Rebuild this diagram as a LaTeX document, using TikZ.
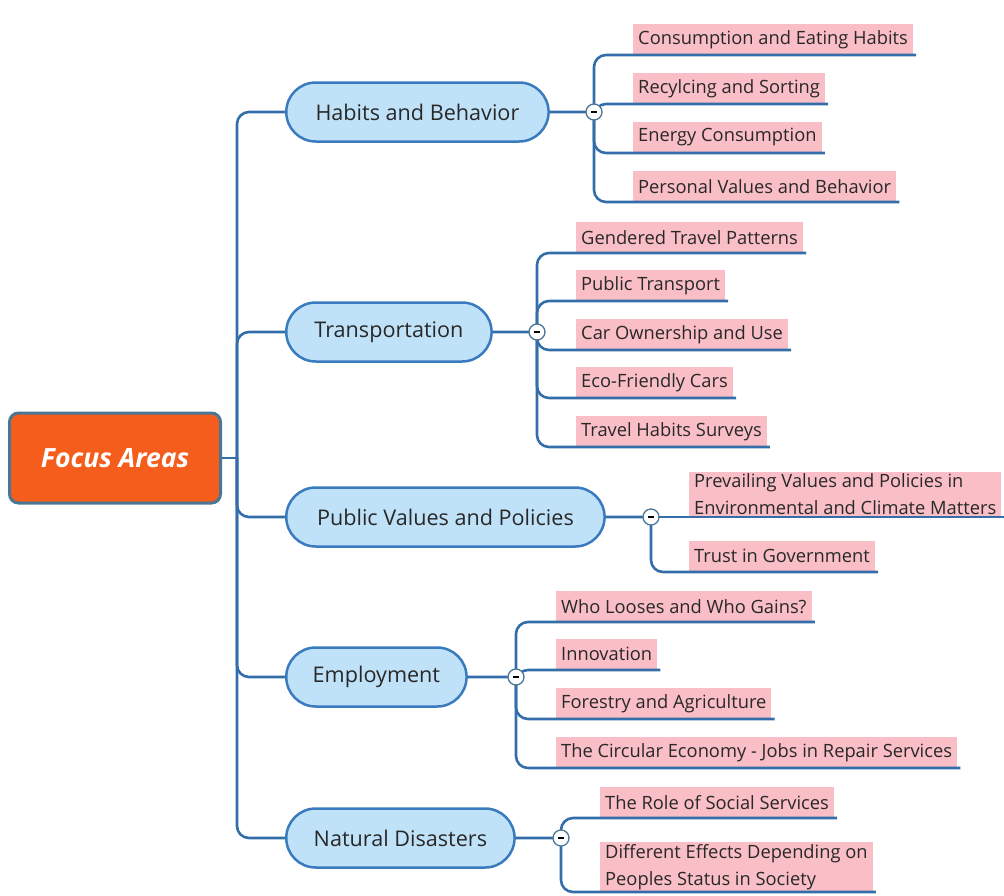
\documentclass[tikz,border=0pt]{standalone}
\usepackage{fontspec}
\setmainfont{Open Sans}
\usepackage{xcolor}
\usetikzlibrary{shapes.misc}
\definecolor{linkblue}{RGB}{52,110,170}
\definecolor{nodeblue}{RGB}{192,226,249}
\definecolor{edgeblue}{RGB}{58,122,190}
\definecolor{rootorange}{RGB}{244,93,28}
\definecolor{rootedge}{RGB}{74,118,150}
\definecolor{leafpink}{RGB}{249,190,198}
\definecolor{textgray}{RGB}{40,40,40}
\begin{document}
\begin{tikzpicture}[x=1pt,y=-1pt,
  root/.style={rectangle, rounded corners=9, draw=rootedge, line width=3, fill=rootorange, text=white, font=\fontsize{26.5}{30}\selectfont\bfseries\itshape, minimum width=211, minimum height=90},
  topic/.style={rounded rectangle, draw=edgeblue, line width=2.5, fill=nodeblue, text=textgray, font=\fontsize{21.6}{25}\selectfont, minimum height=59, anchor=west},
  leaf/.style={rectangle, fill=leafpink, text=textgray, font=\fontsize{18.3}{27}\selectfont, minimum height=31, inner xsep=5, inner ysep=2, anchor=south west, align=left},
  link/.style={linkblue, line width=2.6, rounded corners=12},
  toggle/.style={circle, draw=rootedge, fill=white, line width=1.3, minimum size=16, inner sep=0, path picture={\draw[black, line width=1.8] ([xshift=-3]path picture bounding box.center) -- ([xshift=3]path picture bounding box.center);}}]
\useasboundingbox (0,0) rectangle (1004,895);
% Define the nodes
\node[root] at (115,458) (root) {Focus Areas};
\coordinate (hub) at (237,458);
\node[topic, minimum width=269] at (285,112) (hb) {Habits and Behavior};
\node[topic, minimum width=212] at (285,332) (tr) {Transportation};
\node[topic, minimum width=325] at (285,517) (pv) {Public Values and Policies};
\node[topic, minimum width=187] at (285,677) (em) {Employment};
\node[topic, minimum width=235] at (285,838) (nd) {Natural Disasters};
\coordinate (hbk) at (594,112);
\coordinate (trk) at (537,332);
\coordinate (pvk) at (651,517);
\coordinate (emk) at (516,677);
\coordinate (ndk) at (561,838);
\node[leaf] at (633,55) (hb1) {Consumption and Eating Habits};
\node[leaf] at (633,104) (hb2) {Recylcing and Sorting};
\node[leaf] at (633,153) (hb3) {Energy Consumption};
\node[leaf] at (633,202) (hb4) {Personal Values and Behavior};
\node[leaf] at (576,253) (tr1) {Gendered Travel Patterns};
\node[leaf] at (576,301) (tr2) {Public Transport};
\node[leaf] at (576,350) (tr3) {Car Ownership and Use};
\node[leaf] at (576,398) (tr4) {Eco-Friendly Cars};
\node[leaf] at (576,447) (tr5) {Travel Habits Surveys};
\node[leaf] at (689,517) (pv1) {Prevailing Values and Policies in\\Environmental and Climate Matters};
\node[leaf] at (689,572) (pv2) {Trust in Government};
\node[leaf] at (556,622) (em1) {Who Looses and Who Gains?};
\node[leaf] at (556,670) (em2) {Innovation};
\node[leaf] at (556,719) (em3) {Forestry and Agriculture};
\node[leaf] at (556,768) (em4) {The Circular Economy - Jobs in Repair Services};
\node[leaf] at (600,818) (nd1) {The Role of Social Services};
\node[leaf] at (600,892) (nd2) {Different Effects Depending on\\Peoples Status in Society};
% Draw the paths
\draw[link] (root) -- (hub);
\draw[link] (hub) |- (hb);
\draw[link] (hub) |- (tr);
\draw[link] (hub) |- (pv);
\draw[link] (hub) |- (em);
\draw[link] (hub) |- (nd);
\draw[link] (hb) -- (hbk);
\draw[link] (tr) -- (trk);
\draw[link] (pv) -- (pvk);
\draw[link] (em) -- (emk);
\draw[link] (nd) -- (ndk);
\draw[link] (hbk) |- (hb1.south west) -- ([xshift=3]hb1.south east);
\draw[link] (hbk) |- (hb2.south west) -- ([xshift=3]hb2.south east);
\draw[link] (hbk) |- (hb3.south west) -- ([xshift=3]hb3.south east);
\draw[link] (hbk) |- (hb4.south west) -- ([xshift=3]hb4.south east);
\draw[link] (trk) |- (tr1.south west) -- ([xshift=3]tr1.south east);
\draw[link] (trk) |- (tr2.south west) -- ([xshift=3]tr2.south east);
\draw[link] (trk) |- (tr3.south west) -- ([xshift=3]tr3.south east);
\draw[link] (trk) |- (tr4.south west) -- ([xshift=3]tr4.south east);
\draw[link] (trk) |- (tr5.south west) -- ([xshift=3]tr5.south east);
\draw[link] (pvk) -- (pv1.south west) -- ([xshift=3]pv1.south east);
\draw[link] (pvk) |- (pv2.south west) -- ([xshift=3]pv2.south east);
\draw[link] (emk) |- (em1.south west) -- ([xshift=3]em1.south east);
\draw[link] (emk) |- (em2.south west) -- ([xshift=3]em2.south east);
\draw[link] (emk) |- (em3.south west) -- ([xshift=3]em3.south east);
\draw[link] (emk) |- (em4.south west) -- ([xshift=3]em4.south east);
\draw[link] (ndk) |- (nd1.south west) -- ([xshift=3]nd1.south east);
\draw[link] (ndk) |- (nd2.south west) -- ([xshift=3]nd2.south east);
% collapse markers
\node[toggle] at (hbk) (hbt) {};
\node[toggle] at (trk) (trt) {};
\node[toggle] at (pvk) (pvt) {};
\node[toggle] at (emk) (emt) {};
\node[toggle] at (ndk) (ndt) {};
\end{tikzpicture}
\end{document}
